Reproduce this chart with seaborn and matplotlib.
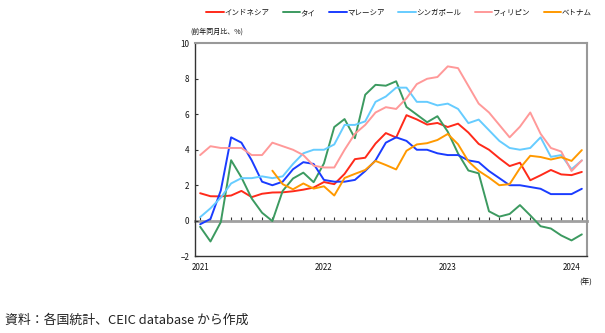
import matplotlib
matplotlib.use("Agg")
import matplotlib.pyplot as plt
import numpy as np
import pandas as pd
import seaborn as sns

# Month index: 0 = 2021-01 ... 37 = 2024-02
months = list(range(38))
year_ticks = [0, 12, 24, 36]
year_labels = ["2021", "2022", "2023", "2024"]

indonesia = [1.55, 1.38, 1.37, 1.42, 1.68, 1.33, 1.52, 1.59, 1.60, 1.66, 1.75, 1.87,
             2.18, 2.06, 2.64, 3.47, 3.55, 4.35, 4.94, 4.69, 5.95, 5.71, 5.42, 5.51,
             5.28, 5.47, 4.97, 4.33, 4.00, 3.52, 3.08, 3.27, 2.28, 2.56, 2.86, 2.61,
             2.57, 2.75]
thailand = [-0.34, -1.17, -0.08, 3.41, 2.44, 1.25, 0.45, -0.02, 1.68, 2.38, 2.71, 2.17,
            3.23, 5.28, 5.73, 4.65, 7.10, 7.66, 7.61, 7.86, 6.41, 5.98, 5.55, 5.89,
            5.02, 3.79, 2.83, 2.67, 0.53, 0.23, 0.38, 0.88, 0.30, -0.31, -0.44, -0.83,
            -1.11, -0.77]
malaysia = [-0.2, 0.1, 1.7, 4.7, 4.4, 3.4, 2.2, 2.0, 2.2, 2.9, 3.3, 3.2,
            2.3, 2.2, 2.2, 2.3, 2.8, 3.4, 4.4, 4.7, 4.5, 4.0, 4.0, 3.8,
            3.7, 3.7, 3.4, 3.3, 2.8, 2.4, 2.0, 2.0, 1.9, 1.8, 1.5, 1.5,
            1.5, 1.8]
singapore = [0.2, 0.7, 1.3, 2.1, 2.4, 2.4, 2.5, 2.4, 2.5, 3.2, 3.8, 4.0,
             4.0, 4.3, 5.4, 5.4, 5.6, 6.7, 7.0, 7.5, 7.5, 6.7, 6.7, 6.5,
             6.6, 6.3, 5.5, 5.7, 5.1, 4.5, 4.1, 4.0, 4.1, 4.7, 3.6, 3.7,
             2.9, 3.4]
philippines = [3.7, 4.2, 4.1, 4.1, 4.1, 3.7, 3.7, 4.4, 4.2, 4.0, 3.7, 3.1,
               3.0, 3.0, 4.0, 4.9, 5.4, 6.1, 6.4, 6.3, 6.9, 7.7, 8.0, 8.1,
               8.7, 8.6, 7.6, 6.6, 6.1, 5.4, 4.7, 5.3, 6.1, 4.9, 4.1, 3.9,
               2.8, 3.4]
vietnam = [np.nan] * 7 + [2.82, 2.06, 1.77, 2.10, 1.81,
           1.94, 1.42, 2.41, 2.64, 2.86, 3.37, 3.14, 2.89, 3.94, 4.30, 4.37, 4.55,
           4.89, 4.31, 3.35, 2.81, 2.43, 2.00, 2.06, 2.96, 3.66, 3.59, 3.45, 3.58,
           3.37, 3.98]

countries = ["インドネシア", "タイ", "マレーシア", "シンガポール", "フィリピン", "ベトナム"]
series = [indonesia, thailand, malaysia, singapore, philippines, vietnam]
colors = ["#ff2a1a", "#3c9a60", "#1a3cff", "#66ccff", "#ff9999", "#ff9900"]

sns.set_theme(style="white")
plt.rcParams["font.family"] = ["Noto Sans CJK JP", "DejaVu Sans"]

df = pd.concat(
    [pd.DataFrame({"month": months, "value": s, "country": c}) for c, s in zip(countries, series)],
    ignore_index=True,
).dropna()

fig = plt.figure(figsize=(6.05, 3.33), dpi=100)
ax = fig.add_axes([195 / 605, 1 - 256.2 / 333, 392 / 605, 212.9 / 333])

sns.lineplot(data=df, x="month", y="value", hue="country", hue_order=countries,
             palette=dict(zip(countries, colors)), linewidth=1.4, ax=ax, zorder=3)

handles, labels = ax.get_legend_handles_labels()
ax.get_legend().remove()

ax.set_xlim(-0.5, 37.5)
ax.set_ylim(-2, 10)
ax.set_yticks(np.arange(-2, 11, 2))
ax.set_xticks(year_ticks)
ax.set_xticklabels(year_labels)
ax.set_xlabel("")
ax.set_ylabel("")
ax.tick_params(axis="x", length=0, pad=5, labelsize=5.8, labelcolor="#111111")
ax.tick_params(axis="y", direction="in", length=2.5, width=0.8, color="#333333",
               pad=4, labelsize=5.8, labelcolor="#111111", left=True)

for side in ["left", "bottom"]:
    ax.spines[side].set_color("#333333")
    ax.spines[side].set_linewidth(1.0)
for side in ["top", "right"]:
    ax.spines[side].set_color("#999999")
    ax.spines[side].set_linewidth(1.5)

# zero line with monthly ticks
sec = ax.secondary_xaxis(1 / 6)
sec.set_xticks(months)
sec.set_xticklabels([])
sec.tick_params(direction="in", length=3, width=0.8, color="#333333")
sec.spines["bottom"].set_color("#a0a0a0")
sec.spines["bottom"].set_linewidth(2.0)

fig.legend(handles, labels, loc="center", bbox_to_anchor=(399 / 605, 1 - 13 / 333),
           ncol=6, frameon=False, fontsize=5.4, handlelength=2.3, handletextpad=0.1,
           columnspacing=1.8, labelcolor="#111111")

fig.text(217 / 605, 1 - 32 / 333, "(前年同月比、%)", ha="center", va="center",
         fontsize=5.0, color="#111111")
fig.text(586 / 605, 1 - 283 / 333, "(年)", ha="center", va="center",
         fontsize=5.5, color="#111111")
fig.text(5 / 605, 1 - 320 / 333, "資料：各国統計、CEIC database から作成", ha="left",
         va="center", fontsize=9.3, color="#222222")

fig.savefig("out.png", dpi=100)
